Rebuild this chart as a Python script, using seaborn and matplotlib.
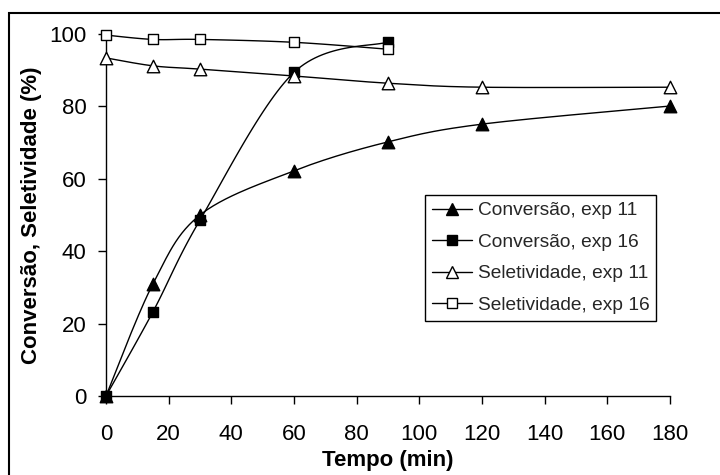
import numpy as np
import pandas as pd
import matplotlib
matplotlib.use("Agg")
import matplotlib.pyplot as plt
from matplotlib.lines import Line2D
from matplotlib.patches import Rectangle
import seaborn as sns

# ---- data ----
tempo_11 = [0, 15, 30, 60, 90, 120, 180]
tempo_16 = [0, 15, 30, 60, 90]
conv_11 = [0, 31, 50, 62.2, 70.2, 75.1, 80.1]
conv_16 = [0, 23.3, 48.6, 89.4, 97.8]
sel_11 = [93.4, 91.2, 90.3, 88.4, 86.4, 85.3, 85.3]
sel_16 = [99.7, 98.5, 98.5, 97.7, 95.8]
labels = ["Conversão, exp 11", "Conversão, exp 16",
          "Seletividade, exp 11", "Seletividade, exp 16"]
x_ticks = [0, 20, 40, 60, 80, 100, 120, 140, 160, 180]
y_ticks = [0, 20, 40, 60, 80, 100]

sns.set_theme(style="white")
plt.rcParams["font.family"] = ["Liberation Sans", "DejaVu Sans"]

W, H = 720, 475
fig = plt.figure(figsize=(W / 100, H / 100), dpi=100)
ax = fig.add_axes([106 / W, 1 - 396 / H, 564 / W, 362 / H])

XMAX, YMAX = 180.0, 100.0
SX, SY = 564 / XMAX, 362 / YMAX


def smooth(xs, ys, n=30):
    """Excel-like smoothed line (Catmull-Rom Bezier) through the data points."""
    P = np.column_stack([np.asarray(xs, float) * SX, np.asarray(ys, float) * SY])
    out = [P[0]]
    m = len(P)
    for i in range(m - 1):
        p0 = P[i - 1] if i > 0 else P[i]
        p1, p2 = P[i], P[i + 1]
        p3 = P[i + 2] if i + 2 < m else P[i + 1]
        c1 = p1 + (p2 - p0) / 6.0
        c2 = p2 - (p3 - p1) / 6.0
        t = np.linspace(0, 1, n)[1:, None]
        seg = ((1 - t) ** 3) * p1 + 3 * ((1 - t) ** 2) * t * c1 + 3 * (1 - t) * t ** 2 * c2 + t ** 3 * p2
        out.extend(seg)
    out = np.array(out)
    return out[:, 0] / SX, out[:, 1] / SY


series = [
    (tempo_11, conv_11, "^", "black", 9),
    (tempo_16, conv_16, "s", "black", 7.5),
    (tempo_11, sel_11, "^", "white", 9),
    (tempo_16, sel_16, "s", "white", 7.5),
]

for xs, ys, mk, fc, ms in series:
    sx, sy = smooth(xs, ys)
    df = pd.DataFrame({"x": sx, "y": sy})
    sns.lineplot(data=df, x="x", y="y", sort=False, estimator=None, color="black",
                 lw=1.0, ax=ax, legend=False, clip_on=False, zorder=2)

for xs, ys, mk, fc, ms in series:
    dfm = pd.DataFrame({"x": xs, "y": ys})
    sns.scatterplot(data=dfm, x="x", y="y", marker=mk, s=ms ** 2, color=fc,
                    edgecolor="black", linewidth=1.0, ax=ax, legend=False,
                    clip_on=False, zorder=3)

ax.set_xlim(0, 180)
ax.set_ylim(0, 100)
ax.set_xticks(x_ticks)
ax.set_yticks(y_ticks)
ax.tick_params(axis="both", direction="out", length=6, width=1, color="black",
               labelsize=16, labelcolor="black", bottom=True, left=True)
ax.tick_params(axis="x", pad=14)
ax.tick_params(axis="y", pad=8)
for s in ["top", "right"]:
    ax.spines[s].set_visible(False)
for s in ["left", "bottom"]:
    ax.spines[s].set_color("black")
    ax.spines[s].set_linewidth(1.0)
ax.set_xlabel("Tempo (min)", fontsize=16, fontweight="bold", labelpad=4, color="black")
ax.set_ylabel("Conversão, Seletividade (%)", fontsize=16, fontweight="bold",
              labelpad=5.5, color="black")
ax.patch.set_alpha(0)

handles = []
for (xs, ys, mk, fc, ms), lab in zip(series, labels):
    handles.append(Line2D([], [], color="black", lw=1.0, marker=mk, markersize=ms,
                          markerfacecolor=fc, markeredgecolor="black"))
leg = ax.legend(handles, labels, loc="upper left", bbox_to_anchor=(0.566, 0.555),
                borderaxespad=0, fontsize=13.8, frameon=True, fancybox=False,
                edgecolor="black", handlelength=2.1, handletextpad=0.3,
                labelspacing=0.74, borderpad=0.35)
leg.get_frame().set_linewidth(1.0)
leg.get_frame().set_alpha(1)

fig.patches.append(Rectangle((8.5 / W, -0.02), 1.1, 1 - 12.5 / H + 0.02,
                             transform=fig.transFigure, fill=False,
                             edgecolor="black", lw=1.5, zorder=10))

fig.savefig("out.png", dpi=100)
